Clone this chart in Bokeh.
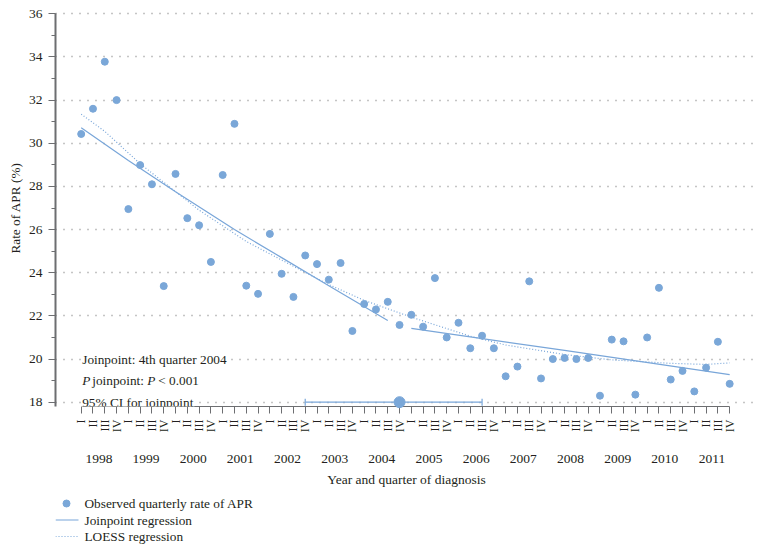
import math
from bokeh.plotting import figure
from bokeh.layouts import column
from bokeh.models import (Range1d, LinearAxis, FixedTicker, SingleIntervalTicker, Label)
from bokeh.core.properties import value
from bokeh.embed import file_html
from bokeh.resources import INLINE

# ---------------- data ----------------
years = list(range(1998, 2012))
quarter_names = ["I", "II", "III", "IV"]

# observed quarterly rate of APR (%), 1998 Q1 .. 2011 Q4
apr_rate = [30.43, 31.6, 33.78, 32.0,
            26.95, 28.99, 28.1, 23.38,
            28.58, 26.53, 26.2, 24.5,
            28.53, 30.9, 23.4, 23.02,
            25.8, 23.95, 22.88, 24.8,
            24.4, 23.68, 24.45, 21.3,
            22.55, 22.3, 22.65, 21.58,
            22.05, 21.5, 23.75, 21.0,
            21.68, 20.5, 21.08, 20.5,
            19.2, 19.65, 23.6, 19.1,
            20.0, 20.05, 20.0, 20.05,
            18.3, 20.9, 20.82, 18.35,
            21.0, 23.3, 19.05, 19.45,
            18.5, 19.6, 20.8, 18.85]

# joinpoint regression, quarter index -> rate
jp1_q = [0, 4, 8, 13, 17, 21, 26]
jp1_v = [30.72, 29.2, 27.75, 26.0, 24.7, 23.4, 21.79]
jp2_q = [28, 41, 55]
jp2_v = [21.42, 20.4, 19.28]

# LOESS regression
loess_q = [0, 2, 5, 10, 14, 18, 21, 24, 28, 33, 36, 41, 45, 50, 53, 55]
loess_v = [31.35, 30.55, 29.05, 26.9, 25.45, 24.3, 23.45, 22.72, 21.94,
           21.06, 20.65, 20.21, 19.96, 19.8, 19.75, 19.82]

joinpoint_q = 27          # 4th quarter 2004
ci_q = [19, 34]           # 95% CI for joinpoint
ci_level = 18

y_ticks = [18, 20, 22, 24, 26, 28, 30, 32, 34, 36]

legend_labels = ["Observed quarterly rate of APR", "Joinpoint regression",
                 "LOESS regression"]

# ---------------- styling ----------------
BLUE = "#7aa7d8"
LINE = "#79a6d9"
TXT = "#231f20"
AX = "#6d6e71"
SERIF = "Liberation Serif"
ANN_SIZE = "13.3px"

n_q = len(apr_rate)
qx = list(range(n_q))

p = figure(frame_width=702, frame_height=397,
           x_range=Range1d(-2.18, 57.36), y_range=Range1d(17.8, 36.2),
           output_backend="svg", toolbar_location=None,
           min_border_left=55, min_border_right=0, min_border_top=9,
           min_border_bottom=88)
p.outline_line_color = None
p.background_fill_color = "white"

# grid
p.xgrid.visible = False
p.ygrid.ticker = FixedTicker(ticks=y_ticks)
p.ygrid.grid_line_color = "#8a8a8a"
p.ygrid.grid_line_dash = "1 7"
p.ygrid.grid_line_width = 1.4

# y axis
ya = p.yaxis[0]
ya.ticker = SingleIntervalTicker(interval=2, num_minor_ticks=2)
ya.bounds = (17.8, 36)
ya.axis_line_color = AX
ya.axis_line_width = 2
ya.major_tick_line_color = AX
ya.minor_tick_line_color = AX
ya.major_tick_line_width = 1.2
ya.minor_tick_line_width = 1.2
ya.major_tick_in = 0
ya.minor_tick_in = 0
ya.major_tick_out = 7
ya.minor_tick_out = 4
ya.major_label_standoff = 6
ya.major_label_text_font = SERIF
ya.major_label_text_font_size = "13.5px"
ya.major_label_text_color = TXT
ya.axis_label = "Rate of APR (%)"
ya.axis_label_text_font = SERIF
ya.axis_label_text_font_size = "13.3px"
ya.axis_label_text_font_style = "normal"
ya.axis_label_text_color = TXT
ya.axis_label_standoff = 3

# x axis: quarters
xa = p.xaxis[0]
xa.ticker = FixedTicker(ticks=qx)
xa.major_label_overrides = {i: quarter_names[i % 4] for i in qx}
xa.major_label_orientation = math.pi / 2
xa.bounds = (0, n_q - 1)
xa.axis_line_color = AX
xa.axis_line_width = 1
xa.major_tick_line_color = AX
xa.major_tick_in = 0
xa.major_tick_out = 7
xa.minor_tick_line_color = None
xa.major_label_standoff = 6
xa.major_label_text_font = SERIF
xa.major_label_text_font_size = "12px"
xa.major_label_text_color = TXT

# x axis: years
year_pos = [1.5 + 4 * k for k in range(len(years))]
xa2 = LinearAxis(ticker=FixedTicker(ticks=year_pos),
                 major_label_overrides={pos: str(y) for pos, y in zip(year_pos, years)})
xa2.axis_line_color = None
xa2.major_tick_line_color = None
xa2.minor_tick_line_color = None
xa2.major_tick_out = 0
xa2.major_tick_in = 0
xa2.major_label_standoff = 19
xa2.major_label_text_font = SERIF
xa2.major_label_text_font_size = "13.5px"
xa2.major_label_text_color = TXT
xa2.axis_label = "Year and quarter of diagnosis"
xa2.axis_label_text_font = SERIF
xa2.axis_label_text_font_size = "13.5px"
xa2.axis_label_text_font_style = "normal"
xa2.axis_label_text_color = TXT
xa2.axis_label_standoff = 6
p.add_layout(xa2, "below")

# glyphs
p.line(loess_q, loess_v, line_color=LINE, line_width=1.2, line_dash="1 2")
p.line(jp1_q, jp1_v, line_color=LINE, line_width=1.2)
p.line(jp2_q, jp2_v, line_color=LINE, line_width=1.2)
p.scatter(qx, apr_rate, size=7, fill_color=BLUE, line_color=BLUE)

# CI for joinpoint
p.line(ci_q, [ci_level, ci_level], line_color=LINE, line_width=1.2, level="overlay")
p.scatter(ci_q, [ci_level, ci_level], marker="dash", angle=math.pi / 2, size=7,
          line_color=LINE, line_width=1.2, level="overlay")
p.scatter([joinpoint_q], [ci_level], size=11, fill_color=BLUE, line_color=BLUE,
          level="overlay")

# annotations
def lab(txt, y, xoff, style="normal"):
    p.add_layout(Label(x=0, y=y, x_offset=xoff, text=txt, text_baseline="middle",
                       text_font=SERIF, text_font_size=ANN_SIZE, text_font_style=style,
                       text_color=TXT, background_fill_color="white",
                       padding=1))

lab("Joinpoint: 4th quarter 2004", 20, 0)
lab("P", 19, 0, "italic")
lab("joinpoint:", 19, 10)
lab("P", 19, 65, "italic")
lab("< 0.001", 19, 76)
lab("95% CI for joinpoint", 18, 0)

# ---------------- legend strip (pixel coordinates, frame aligned with main plot) ----
lg = figure(width=757, height=52, x_range=Range1d(55, 757), y_range=Range1d(0, 52),
            output_backend="svg", toolbar_location=None, min_border=0,
            x_axis_type=None, y_axis_type=None)
lg.outline_line_color = None
lg.xgrid.visible = False
lg.ygrid.visible = False
row_y = [43, 26.5, 10]
lg.scatter([66], [row_y[0]], size=7, fill_color=BLUE, line_color=BLUE)
lg.line([55, 78], [row_y[1], row_y[1]], line_color=LINE, line_width=1.2)
lg.line([55, 78], [row_y[2], row_y[2]], line_color=LINE, line_width=1.2, line_dash="1 2")
lg.text(x=[84, 84, 84], y=row_y, text=legend_labels, text_baseline="middle",
        text_font=value(SERIF), text_font_size=value(ANN_SIZE), text_color=TXT)

layout = column(p, lg, spacing=0)
open("out.html", "w").write(file_html(layout, INLINE))
